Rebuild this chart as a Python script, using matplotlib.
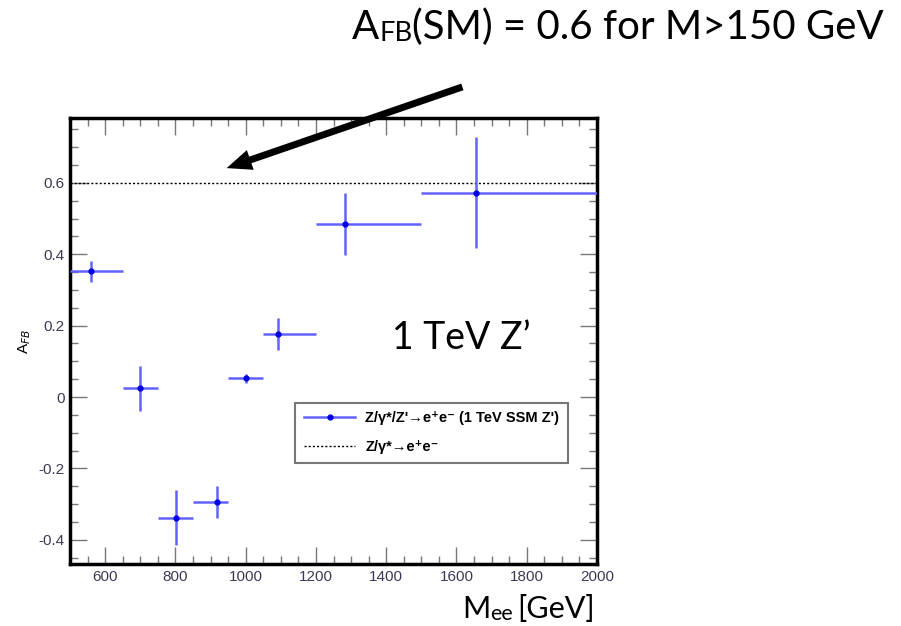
import matplotlib
matplotlib.use("Agg")
import matplotlib.pyplot as plt
from matplotlib.lines import Line2D
from matplotlib.patches import FancyArrowPatch
from matplotlib.ticker import MultipleLocator

# --- forward-backward asymmetry per mass bin ---
mass_center = [560, 698, 803, 917, 1000, 1092, 1282, 1655]
bin_low = [500, 650, 750, 850, 950, 1050, 1200, 1500]
bin_high = [650, 750, 850, 950, 1050, 1200, 1500, 2000]
afb = [0.352, 0.024, -0.338, -0.294, 0.052, 0.176, 0.484, 0.573]
afb_err = [0.030, 0.063, 0.077, 0.045, 0.012, 0.045, 0.087, 0.155]
afb_sm = 0.6

x_ticks = [600, 800, 1000, 1200, 1400, 1600, 1800, 2000]
y_ticks = [-0.4, -0.2, 0, 0.2, 0.4, 0.6]
y_tick_labels = ["-0.4", "-0.2", "0", "0.2", "0.4", "0.6"]

label_sig = "Z/\u03b3*/Z'\u2192e\u207ae\u207b (1 TeV SSM Z')"
label_sm = "Z/\u03b3*\u2192e\u207ae\u207b"

W, H = 901, 626
fig = plt.figure(figsize=(W / 100, H / 100), dpi=100)
ax = fig.add_axes([70 / W, 1 - 564 / H, 527 / W, 446 / H])

blue_line = (0.38, 0.38, 1.0)
blue_dot = (0.0, 0.0, 0.9)

xerr = [[c - lo for c, lo in zip(mass_center, bin_low)],
        [hi - c for c, hi in zip(mass_center, bin_high)]]
ax.errorbar(mass_center, afb, xerr=xerr, yerr=afb_err, fmt="o",
            color=blue_line, ecolor=blue_line, elinewidth=1.8, capsize=0,
            markersize=3.5, markerfacecolor=blue_dot, markeredgecolor=blue_dot,
            zorder=3)
ax.axhline(afb_sm, color="black", lw=1.0, ls=(0, (1.5, 1.5)), zorder=2)

ax.set_xlim(500, 2000)
ax.set_ylim(-0.468, 0.782)
ax.xaxis.set_major_locator(MultipleLocator(200))
ax.xaxis.set_minor_locator(MultipleLocator(50))
ax.set_yticks(y_ticks)
ax.set_yticklabels(y_tick_labels)
ax.yaxis.set_minor_locator(MultipleLocator(0.05))
ax.set_xticks(x_ticks)

tick_col = "#3a3a55"
ax.tick_params(which="both", direction="in", top=True, right=True,
               color="#777777", width=1.0, labelsize=11, labelcolor=tick_col,
               pad=4)
ax.tick_params(which="major", length=12)
ax.tick_params(which="minor", length=6)
for lab in ax.get_xticklabels() + ax.get_yticklabels():
    lab.set_family("Liberation Sans")
for sp in ax.spines.values():
    sp.set_linewidth(2.5)
    sp.set_color("black")

ax.set_ylabel("A$_{FB}$", fontsize=11, family="Liberation Sans", labelpad=4)

handles = [
    Line2D([], [], color=blue_line, lw=1.8, marker="o", markersize=3.5,
           markerfacecolor=blue_dot, markeredgecolor=blue_dot),
    Line2D([], [], color="black", lw=1.0, ls=(0, (1.5, 1.5))),
]
leg = ax.legend(handles, [label_sig, label_sm],
                loc="lower left", bbox_to_anchor=(0.414, 0.211, 0.544, 0.141),
                mode="expand", fancybox=False, framealpha=1,
                edgecolor="#777777", borderpad=0.6, labelspacing=1.0,
                handlelength=3.5, handletextpad=0.7,
                prop={"family": ["Liberation Sans", "DejaVu Sans"],
                      "weight": "bold", "size": 10.5})
leg.get_frame().set_linewidth(1.5)

# --- slide annotations ---
font = ["Lato", "DejaVu Sans"]
big = 29


def put(x, y, s, size):
    t = fig.text(x / W, 1 - y / H, s, fontsize=size, family=font,
                 va="baseline", ha="left", color="black")
    fig.canvas.draw()
    bb = t.get_window_extent(fig.canvas.get_renderer())
    return bb.x1


x = put(352, 39, "A", big)
x = put(x, 41, "FB", big * 0.68)
put(x, 39, "(SM) = 0.6 for M>150 GeV", big)

put(392, 349, "1 TeV Z\u2019", 27)

x = put(462, 618, "M", 22)
x = put(x, 620, "ee", 22 * 0.7)
put(x + 4, 618, "[GeV]", 22)

arrow = FancyArrowPatch((465 / W, 1 - 86 / H), (224 / W, 1 - 169 / H),
                        transform=fig.transFigure,
                        arrowstyle="simple,head_length=18,head_width=15,tail_width=5",
                        mutation_scale=1, color="black", lw=0)
fig.patches.append(arrow)

fig.savefig("out.png", dpi=100)
